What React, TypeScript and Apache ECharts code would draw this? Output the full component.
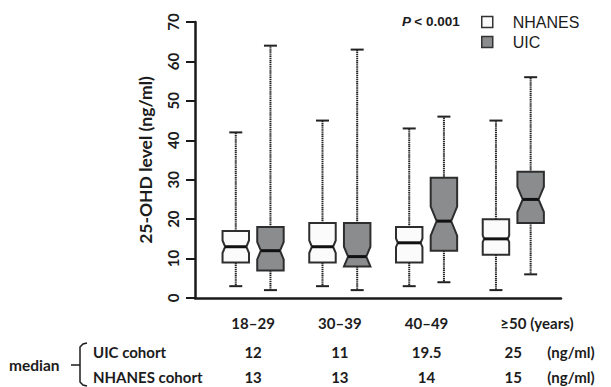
import React, { useEffect, useRef } from "react";
import * as echarts from "echarts";

const categories = ["18–29", "30–39", "40–49", "≥50"];
const categoryUnit = "(years)";

const nhanesMin = [3, 3, 3, 2];
const nhanesQ1 = [9, 9, 9, 11];
const nhanesMedian = [13, 13, 14, 15];
const nhanesQ3 = [17, 19, 18, 20];
const nhanesMax = [42, 45, 43, 45];
const nhanesNotchLow = [11.4, 11.4, 12.9, 14.15];
const nhanesNotchHigh = [14.6, 14.6, 15.1, 15.85];

const uicMin = [2, 2, 4, 6];
const uicQ1 = [7, 8, 12, 19];
const uicMedian = [12, 10.5, 19.5, 25];
const uicQ3 = [18, 19, 30.5, 32];
const uicMax = [64, 63, 46, 56];
const uicNotchLow = [9.8, 8.0, 15.8, 21.8];
const uicNotchHigh = [14.2, 13.0, 23.2, 28.2];

const uicTable = ["12", "11", "19.5", "25"];
const nhanesTable = ["13", "13", "14", "15"];
const tableUnit = "(ng/ml)";

const yTicks = [0, 10, 20, 30, 40, 50, 60, 70];

const LABEL_FONT = "Lato, 'Noto Sans', sans-serif";
const LEGEND_FONT = "'Liberation Sans', Arial, sans-serif";
const INK = "#1c1c1c";

function buildBoxes(
  min: number[], q1: number[], med: number[], q3: number[], max: number[],
  nl: number[], nh: number[], offset: number
) {
  return categories.map((_, i) => [i + 1 + offset, min[i], q1[i], med[i], q3[i], max[i], nl[i], nh[i]]);
}

function makeRender(fill: string) {
  return (params: any, api: any) => {
    const x = api.value(0);
    const c = (v: number) => api.coord([x, v]);
    const cx = c(api.value(1))[0];
    const yMin = c(api.value(1))[1];
    const yQ1 = c(api.value(2))[1];
    const yM = c(api.value(3))[1];
    const yQ3 = c(api.value(4))[1];
    const yMax = c(api.value(5))[1];
    const yNL0 = c(api.value(6))[1];
    const yNH0 = c(api.value(7))[1];
    const bw = api.size([0.305, 0])[0];
    const hw = bw / 2;
    const xl = cx - hw;
    const xr = cx + hw;
    const halfNotch = (yNL0 - yNH0) / 2;
    const ind = Math.min(0.42 * halfNotch, hw * 0.45);
    const indAt = (y: number, yEdge: number) => ind * Math.max(0, 1 - Math.abs(y - yM) / Math.abs(yEdge - yM));

    const right: number[][] = [];
    const left: number[][] = [];
    let topInd = 0;
    if (yNH0 > yQ3) {
      right.push([xr, yQ3]);
      right.push([xr, yNH0]);
    } else {
      topInd = indAt(yQ3, yNH0);
      right.push([xr - topInd, yQ3]);
    }
    right.push([xr - ind, yM]);
    let botInd = 0;
    if (yNL0 < yQ1) {
      right.push([xr, yNL0]);
      right.push([xr, yQ1]);
    } else {
      botInd = indAt(yQ1, yNL0);
      right.push([xr - botInd, yQ1]);
    }
    if (yNL0 < yQ1) {
      left.push([xl, yQ1]);
      left.push([xl, yNL0]);
    } else {
      left.push([xl + botInd, yQ1]);
    }
    left.push([xl + ind, yM]);
    if (yNH0 > yQ3) {
      left.push([xl, yNH0]);
      left.push([xl, yQ3]);
    } else {
      left.push([xl + topInd, yQ3]);
    }
    const points = right.concat(left);
    const capHalf = 6.5;
    const whisker = { stroke: "#222", lineWidth: 2, lineDash: [1.4, 0.7] };
    const cap = { stroke: "#222", lineWidth: 2 };
    return {
      type: "group",
      children: [
        { type: "line", shape: { x1: cx, y1: yQ3, x2: cx, y2: yMax }, style: whisker },
        { type: "line", shape: { x1: cx, y1: yQ1, x2: cx, y2: yMin }, style: whisker },
        { type: "line", shape: { x1: cx - capHalf, y1: yMax, x2: cx + capHalf, y2: yMax }, style: cap },
        { type: "line", shape: { x1: cx - capHalf, y1: yMin, x2: cx + capHalf, y2: yMin }, style: cap },
        {
          type: "polygon",
          shape: { points },
          style: { fill, stroke: "#2e2e2e", lineWidth: 2, lineJoin: "miter" },
        },
        {
          type: "line",
          shape: { x1: xl + ind, y1: yM, x2: xr - ind, y2: yM },
          style: { stroke: "#111", lineWidth: 3 },
        },
      ],
    };
  };
}

function renderTable(params: any, api: any) {
  const idx = params.dataIndex;
  const pt = api.coord([api.value(0), 0]);
  const cx = pt[0];
  const base = pt[1];
  const font = `bold 15px ${LABEL_FONT}`;
  const children: any[] = [
    { type: "text", x: cx, y: base + 25, style: { text: categories[idx], font, fill: INK, align: "center", verticalAlign: "middle" } },
    { type: "text", x: cx, y: base + 54, style: { text: uicTable[idx], font, fill: INK, align: "center", verticalAlign: "middle" } },
    { type: "text", x: cx, y: base + 79, style: { text: nhanesTable[idx], font, fill: INK, align: "center", verticalAlign: "middle" } },
  ];
  if (idx === categories.length - 1) {
    children.push(
      { type: "text", x: cx + 17, y: base + 25, style: { text: categoryUnit, font, fill: INK, align: "left", verticalAlign: "middle" } },
      { type: "text", x: cx + 34, y: base + 54, style: { text: tableUnit, font, fill: INK, align: "left", verticalAlign: "middle" } },
      { type: "text", x: cx + 34, y: base + 79, style: { text: tableUnit, font, fill: INK, align: "left", verticalAlign: "middle" } }
    );
  }
  return { type: "group", children };
}

export default function App() {
  const ref = useRef<HTMLDivElement>(null);
  useEffect(() => {
    if (!ref.current) return;
    const chart = echarts.init(ref.current, null, { renderer: "svg" });
    chart.setOption({
      animation: false,
      backgroundColor: "#ffffff",
      grid: { left: 195, right: 50, top: 22, bottom: 89, containLabel: false },
      xAxis: {
        type: "value",
        min: 0.33,
        max: 4.55,
        axisLine: { show: true, onZero: true, lineStyle: { color: "#1a1a1a", width: 2.5 } },
        axisTick: { show: false },
        axisLabel: { show: false },
        splitLine: { show: false },
      },
      yAxis: {
        type: "value",
        min: yTicks[0],
        max: yTicks[yTicks.length - 1],
        interval: 10,
        name: "25-OHD level (ng/ml)",
        nameLocation: "middle",
        nameGap: 41,
        nameTextStyle: { fontFamily: LABEL_FONT, fontWeight: "bold", fontSize: 17.5, color: INK },
        axisLine: { show: true, lineStyle: { color: "#1a1a1a", width: 2.5 } },
        axisTick: { show: true, length: 9, lineStyle: { color: "#1a1a1a", width: 2 } },
        axisLabel: {
          rotate: 90,
          margin: 15,
          fontFamily: LABEL_FONT,
          fontWeight: "bold",
          fontSize: 15,
          color: INK,
        },
        splitLine: { show: false },
      },
      legend: {
        orient: "vertical",
        left: 476,
        top: 9,
        itemWidth: 11,
        itemHeight: 11,
        itemGap: 4,
        selectedMode: false,
        textStyle: { fontFamily: LEGEND_FONT, fontSize: 16, color: INK, lineHeight: 16, padding: [0, 0, 0, 15] },
        data: [
          { name: "NHANES", icon: "rect", itemStyle: { color: "#fafafa", borderColor: "#333", borderWidth: 1.5 } },
          { name: "UIC", icon: "rect", itemStyle: { color: "#8b8c8e", borderColor: "#333", borderWidth: 1.5 } },
        ],
      },
      graphic: [
        {
          type: "text",
          left: 402,
          top: 14,
          style: {
            text: "{p|P} {n|< 0.001}",
            rich: {
              p: { fontFamily: LEGEND_FONT, fontWeight: "bold", fontStyle: "italic", fontSize: 13.5, fill: INK },
              n: { fontFamily: LEGEND_FONT, fontWeight: "bold", fontSize: 13.5, fill: INK },
            },
          },
        },
        {
          type: "text",
          x: 9,
          y: 365,
          style: { text: "median", font: `bold 15.5px ${LABEL_FONT}`, fill: INK, align: "left", verticalAlign: "middle" },
        },
        {
          type: "line",
          shape: { x1: 71, y1: 365, x2: 80, y2: 365 },
          style: { stroke: INK, lineWidth: 1.5 },
        },
        {
          type: "polyline",
          shape: { points: [[87, 343], [83, 344], [80, 347], [80, 382], [83, 385], [87, 386]] },
          style: { stroke: INK, lineWidth: 1.5, fill: "none" },
        },
        {
          type: "text",
          x: 93,
          y: 352,
          style: { text: "UIC cohort", font: `bold 15px ${LABEL_FONT}`, fill: INK, align: "left", verticalAlign: "middle" },
        },
        {
          type: "text",
          x: 93,
          y: 377,
          style: { text: "NHANES cohort", font: `bold 15px ${LABEL_FONT}`, fill: INK, align: "left", verticalAlign: "middle" },
        },
      ],
      series: [
        {
          name: "NHANES",
          type: "custom",
          renderItem: makeRender("#fbfbfb"),
          itemStyle: { color: "#fafafa", borderColor: "#333" },
          encode: { x: 0, y: [1, 2, 3, 4, 5] },
          data: buildBoxes(nhanesMin, nhanesQ1, nhanesMedian, nhanesQ3, nhanesMax, nhanesNotchLow, nhanesNotchHigh, -0.2),
          z: 3,
        },
        {
          name: "UIC",
          type: "custom",
          renderItem: makeRender("#8b8c8e"),
          itemStyle: { color: "#8b8c8e", borderColor: "#333" },
          encode: { x: 0, y: [1, 2, 3, 4, 5] },
          data: buildBoxes(uicMin, uicQ1, uicMedian, uicQ3, uicMax, uicNotchLow, uicNotchHigh, 0.2),
          z: 3,
        },
        {
          name: "table",
          type: "custom",
          renderItem: renderTable,
          clip: false,
          encode: { x: 0, y: 1 },
          data: categories.map((_, i) => [i + 1, 0]),
          silent: true,
          z: 2,
        },
      ],
    });
    return () => chart.dispose();
  }, []);
  return <div ref={ref} style={{ width: 611, height: 387, position: "absolute", left: 0, top: 0 }} />;
}
